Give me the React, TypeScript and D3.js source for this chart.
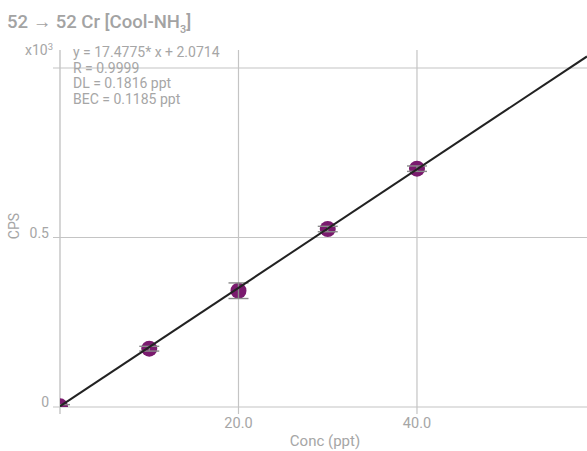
import React from "react";
import * as d3 from "d3";

const concs = [0, 10, 20, 30, 40];
const cps = [2, 172, 343, 525, 703];
const errs = [5, 7, 23, 8, 8];
const xTicks = [20, 40];
const xTickLabels = ["20.0", "40.0"];
const yTicks = [0, 500, 1000];
const yTickLabels = ["0", "0.5", ""];
const slope = 17.4775;
const intercept = 2.0714;
const infoLines = ["y = 17.4775* x + 2.0714", "R = 0.9999", "DL = 0.1816 ppt", "BEC = 0.1185 ppt"];

export default function App() {
  const W = 587, H = 451;
  const left = 60, right = 587, top = 50, bottom = 407;
  const x = d3.scaleLinear().domain([0, 59.05]).range([left, right]);
  const y = d3.scaleLinear().domain([0, 1000]).range([bottom, 68]);
  const grey = "#c4c4c4";
  const txt = "#a6a6a6";
  const font = "Roboto, sans-serif";
  const lineGen = d3.line<number>().x((d) => x(d)).y((d) => y(slope * d + intercept));
  return (
    <svg width={W} height={H} style={{ position: "absolute", left: 0, top: 0 }} fontFamily={font}>
      <defs>
        <clipPath id="plotclip">
          <rect x={left} y={top} width={right - left} height={bottom - top} />
        </clipPath>
      </defs>
      <text x={7} y={28} fontSize={18.5} fontWeight={500} fill="#a3a3a3">
        52 → 52 Cr [Cool-NH<tspan fontSize={11} dy={5}>3</tspan><tspan dy={-5}>]</tspan>
      </text>
      {yTicks.map((t) => (
        <line key={"gy" + t} x1={left - 7} x2={right} y1={y(t)} y2={y(t)} stroke={grey} strokeWidth={1.2} />
      ))}
      {xTicks.map((t) => (
        <line key={"gx" + t} x1={x(t)} x2={x(t)} y1={top} y2={bottom + 7} stroke={grey} strokeWidth={1.2} />
      ))}
      <line x1={left} x2={left} y1={top} y2={bottom + 7} stroke={grey} strokeWidth={1.4} />
      {yTicks.map((t, i) => (
        <text key={"ty" + t} x={49} y={y(t)} textAnchor="end" fontSize={14} fill={txt}>
          {yTickLabels[i]}
        </text>
      ))}
      <text x={53} y={55} textAnchor="end" fontSize={14} fill={txt}>
        x10<tspan fontSize={9.5} dy={-5}>3</tspan>
      </text>
      {xTicks.map((t, i) => (
        <text key={"tx" + t} x={x(t)} y={428} textAnchor="middle" fontSize={14.5} fill={txt}>
          {xTickLabels[i]}
        </text>
      ))}
      <text x={325} y={446} textAnchor="middle" fontSize={15} fill={txt}>
        Conc (ppt)
      </text>
      <text transform={`translate(19, 226) rotate(-90)`} textAnchor="middle" fontSize={14} fill={txt}>
        CPS
      </text>
      <g clipPath="url(#plotclip)">
        {concs.map((c, i) => (
          <circle key={"p" + i} cx={x(c)} cy={y(cps[i])} r={8} fill="#7a1a6e" />
        ))}
        {concs.map((c, i) => (
          <g key={"e" + i} stroke="#8a8a8a" strokeWidth={1.4}>
            <line x1={x(c)} x2={x(c)} y1={y(cps[i] - errs[i])} y2={y(cps[i] + errs[i])} />
            <line x1={x(c) - 10} x2={x(c) + 10} y1={y(cps[i] - errs[i])} y2={y(cps[i] - errs[i])} />
            <line x1={x(c) - 10} x2={x(c) + 10} y1={y(cps[i] + errs[i])} y2={y(cps[i] + errs[i])} />
          </g>
        ))}
        <path d={lineGen([0, 59.05]) || ""} stroke="#222" strokeWidth={2} fill="none" />
      </g>
      {infoLines.map((s, i) => (
        <text key={"i" + i} x={73} y={57 + i * 15.5} fontSize={14} fill={txt}>
          {s}
        </text>
      ))}
    </svg>
  );
}
